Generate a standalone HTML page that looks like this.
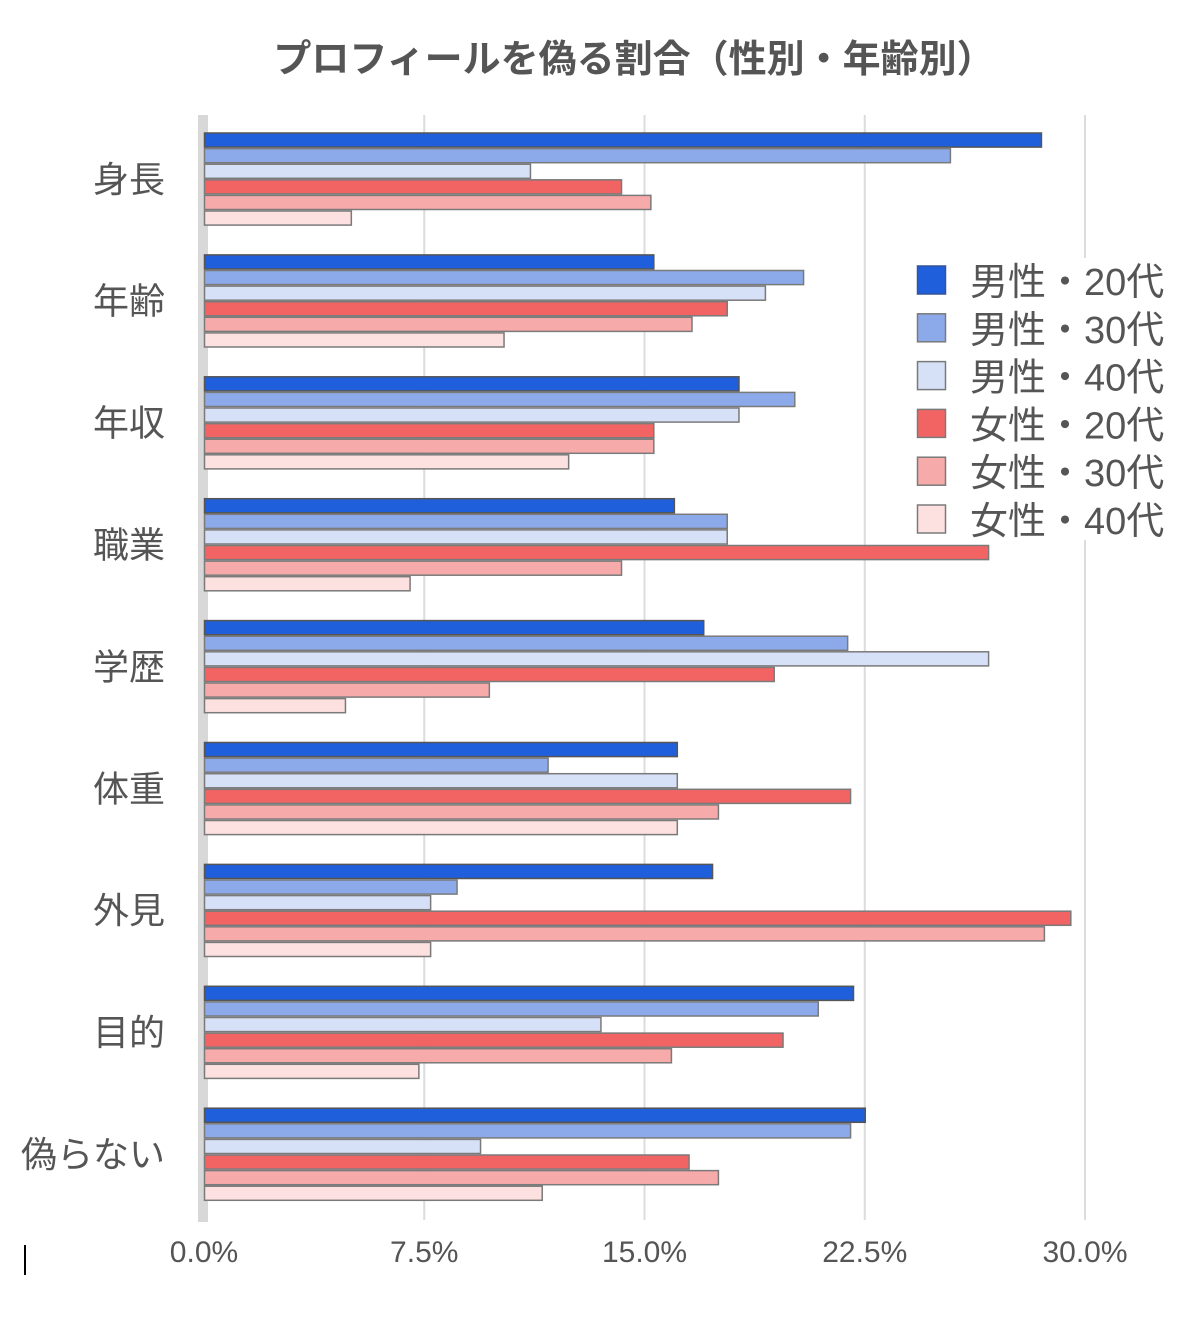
<!DOCTYPE html>
<html><head><meta charset="utf-8"><style>
html,body{margin:0;padding:0;background:#fff;}
body{width:1185px;height:1319px;overflow:hidden;font-family:"Liberation Sans","Noto Sans CJK JP",sans-serif;}
</style></head><body>
<svg id="chart" width="1185" height="1319" xmlns="http://www.w3.org/2000/svg" font-family="Liberation Sans, Noto Sans CJK JP, sans-serif">
<text x="634" y="72" text-anchor="middle" font-size="38" font-weight="bold" fill="#555">プロフィールを偽る割合（性別・年齢別）</text>
<rect x="24" y="1245" width="2" height="30" fill="#000"/>
<g id="grid"></g><g id="bars"></g><g id="labels"></g><g id="legend"></g>
</svg>
<script>
const categories=["身長","年齢","年収","職業","学歴","体重","外見","目的","偽らない"];
const seriesNames=["男性・20代","男性・30代","男性・40代","女性・20代","女性・30代","女性・40代"];
const m20=[28.5,15.3,18.2,16.0,17.0,16.1,17.3,22.1,22.5];
const m30=[25.4,20.4,20.1,17.8,21.9,11.7,8.6,20.9,22.0];
const m40=[11.1,19.1,18.2,17.8,26.7,16.1,7.7,13.5,9.4];
const f20=[14.2,17.8,15.3,26.7,19.4,22.0,29.5,19.7,16.5];
const f30=[15.2,16.6,15.3,14.2,9.7,17.5,28.6,15.9,17.5];
const f40=[5.0,10.2,12.4,7.0,4.8,16.1,7.7,7.3,11.5];
const ticks=[0,7.5,15,22.5,30];
const tickLabels=["0.0%","7.5%","15.0%","22.5%","30.0%"];
const series=[m20,m30,m40,f20,f30,f40];
const colors=["#1f5fdc","#8caaea","#d6e0f7","#f26464","#f7aaaa","#fde0e0"];
const NS="http://www.w3.org/2000/svg";
const x0=204,x1=1085,plotTop=115,plotBottom=1220;
const xs=v=>x0+(v/30)*(x1-x0);
const pitch=121.9;
const bh=15.6;
function mk(t,a,p){const e=document.createElementNS(NS,t);for(const k in a)e.setAttribute(k,a[k]);p.appendChild(e);return e;}
const grid=document.getElementById('grid'),bars=document.getElementById('bars'),labels=document.getElementById('labels'),legend=document.getElementById('legend');
const ax=mk('rect',{x:198,y:plotTop,width:10,height:plotBottom-plotTop+2,fill:"#d8d8d8"},grid);


ticks.forEach((t,i)=>{
  if(i>0){const l=mk('line',{x1:xs(t),x2:xs(t),y1:plotTop,y2:plotBottom,stroke:"#dcdcdc","stroke-width":2},grid);
  
  }
  const tx=mk('text',{x:xs(t),y:1262,"text-anchor":"middle","font-size":30,fill:"#555"},labels);
  tx.textContent=tickLabels[i];
  
  
});
const lb=mk('rect',{x:905,y:258,width:270,height:282,fill:"#fff"},grid);


categories.forEach((c,ci)=>{
  const gy=133+ci*pitch;
  series.forEach((s,si)=>{
    const r=mk('rect',{x:x0+0.5,y:gy+si*bh,width:xs(s[ci])-x0,height:bh-1.5,fill:colors[si],stroke:si==0?"#555":"#7a7a7a","stroke-width":1.5},bars);
    
    
  });
  const t=mk('text',{x:165,y:gy+6*bh/2+12,"text-anchor":"end","font-size":36,fill:"#555"},labels);
  t.textContent=c;
  
  
});
seriesNames.forEach((n,i)=>{
  const y=266+i*47.8;
  const sq=mk('rect',{x:917.5,y:y,width:28,height:28,fill:colors[i],stroke:i==0?"#335599":"#7a7a7a","stroke-width":1.5},legend);
  
  
  const t=mk('text',{x:970,y:y+29,"font-size":38,fill:"#555"},legend);
  t.textContent=n;
  
  
});
</script>
</body></html>
